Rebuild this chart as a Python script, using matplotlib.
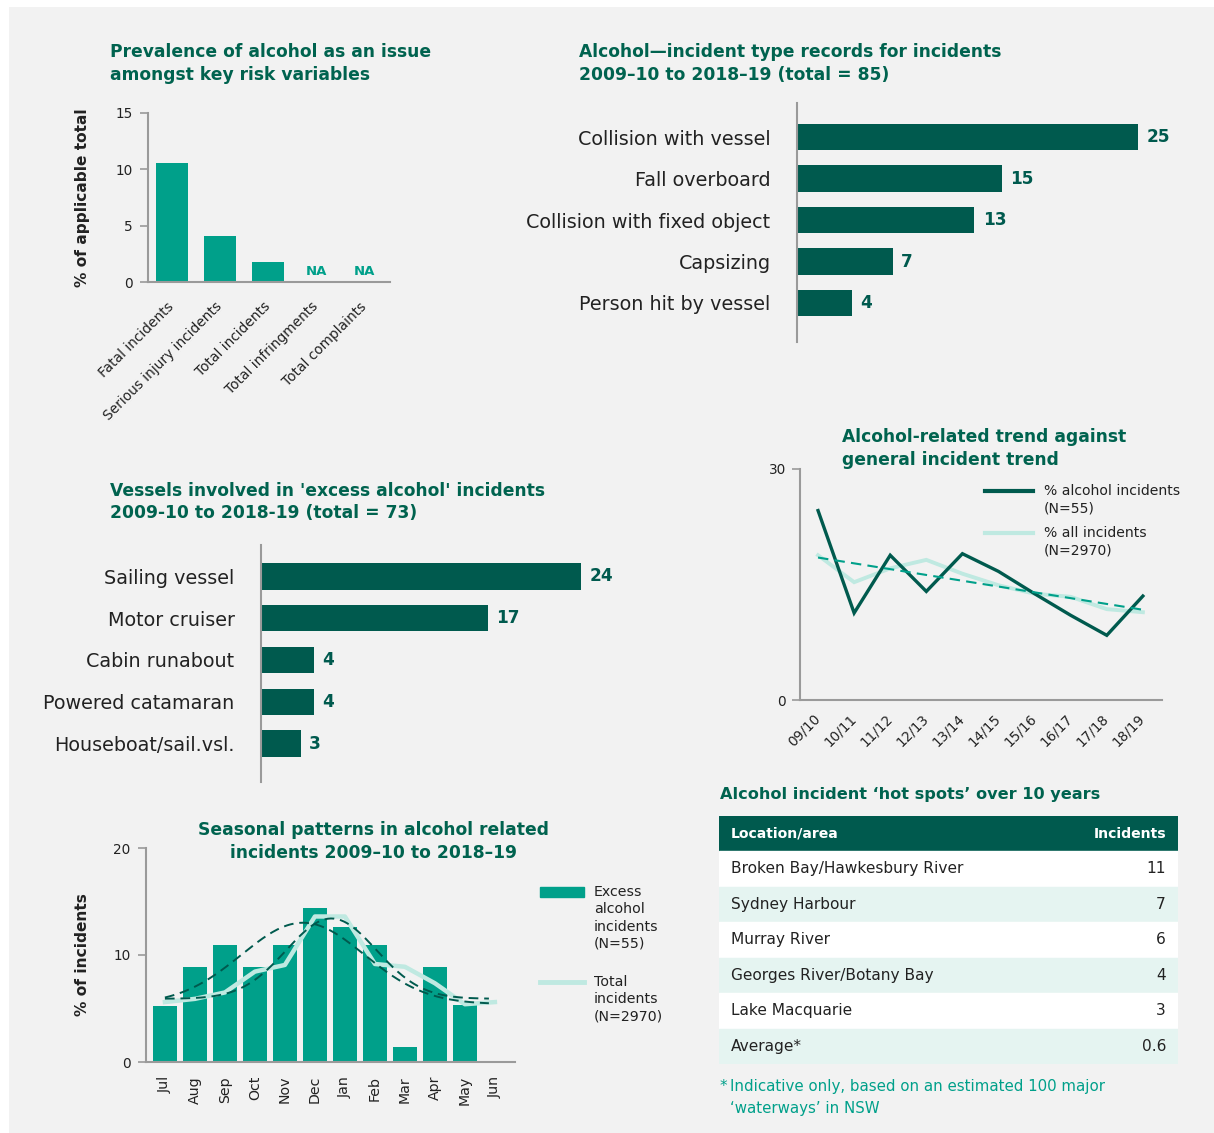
import matplotlib.pyplot as plt
import numpy as np
from matplotlib.patches import Rectangle
from matplotlib.lines import Line2D

plt.rcParams["font.family"] = ["DejaVu Sans"]

W, H = 1214, 1133

# colours
DARK = "#005a4e"
TEAL = "#00a08a"
LIGHT = "#bfe9e1"
TITLE = "#00634f"
AXIS = "#9a9a9a"
TEXT = "#222222"
BG = "#f2f2f2"
ROW = "#e5f4f1"

# prevalence of alcohol (% of applicable total)
risk_vars = ["Fatal incidents", "Serious injury incidents", "Total incidents",
             "Total infringments", "Total complaints"]
risk_pct = [10.6, 4.1, 1.8, np.nan, np.nan]

# incident types
inc_types = ["Collision with vessel", "Fall overboard", "Collision with fixed object",
             "Capsizing", "Person hit by vessel"]
inc_counts = [25, 15, 13, 7, 4]

# vessel types
vessels = ["Sailing vessel", "Motor cruiser", "Cabin runabout",
           "Powered catamaran", "Houseboat/sail.vsl."]
vessel_counts = [24, 17, 4, 4, 3]

# yearly trend (%)
years = ["09/10", "10/11", "11/12", "12/13", "13/14", "14/15", "15/16", "16/17", "17/18", "18/19"]
pct_alcohol = [24.6, 11.3, 18.8, 14.1, 19.0, 16.7, 13.8, 11.0, 8.4, 13.5]
pct_all = [18.8, 15.3, 17.1, 18.2, 16.4, 14.9, 13.8, 13.4, 11.8, 11.4]

# seasonal pattern (%)
months = ["Jul", "Aug", "Sep", "Oct", "Nov", "Dec", "Jan", "Feb", "Mar", "Apr", "May", "Jun"]
season_alcohol = [5.2, 8.9, 10.9, 8.9, 10.9, 14.4, 12.6, 10.9, 1.4, 8.9, 5.3, 0.0]
season_total = [5.6, 5.9, 6.5, 8.45, 9.07, 13.6, 13.6, 9.16, 8.9, 7.36, 5.4, 5.6]

# hot spots table
locations = ["Broken Bay/Hawkesbury River", "Sydney Harbour", "Murray River",
             "Georges River/Botany Bay", "Lake Macquarie", "Average*"]
loc_incidents = ["11", "7", "6", "4", "3", "0.6"]


def box(x0, y0, x1, y1):
    # pixel box (top-left origin) -> figure fraction rect
    return [x0 / W, 1 - y1 / H, (x1 - x0) / W, (y1 - y0) / H]


def ftext(x, y, s, **kw):
    fig.text(x / W, 1 - y / H, s, **kw)


def title(x, ys, lines, ha="left", size=12.3):
    for y, s in zip(ys, lines):
        ftext(x, y, s, color=TITLE, fontsize=size, fontweight="bold", ha=ha, va="center")


def clean(ax, left=True, bottom=True):
    ax.set_facecolor("none")
    for side in ["top", "right"]:
        ax.spines[side].set_visible(False)
    ax.spines["left"].set_visible(left)
    ax.spines["bottom"].set_visible(bottom)
    for side in ["left", "bottom"]:
        ax.spines[side].set_color(AXIS)
        ax.spines[side].set_linewidth(1.5)


def gauss_fit(x, y):
    # bell-shaped trend: offset + amplitude * gaussian, brute force on centre/width
    best = None
    for mu in np.linspace(2, 9, 141):
        for s in np.linspace(0.8, 6, 105):
            g = np.exp(-(x - mu) ** 2 / (2 * s * s))
            A = np.column_stack([g, np.ones_like(x)])
            coef = np.linalg.lstsq(A, y, rcond=None)[0]
            err = np.sum((A @ coef - y) ** 2)
            if best is None or err < best[0]:
                best = (err, mu, s, coef)
    _, mu, s, (a, c) = best
    return lambda t: c + a * np.exp(-(t - mu) ** 2 / (2 * s * s))


fig = plt.figure(figsize=(W / 100, H / 100), dpi=100, facecolor="white")
fig.add_artist(Rectangle((9 / W, 0), 1, 1 - 7 / H, transform=fig.transFigure,
                         facecolor=BG, edgecolor="none", zorder=-10))

# ---- prevalence of alcohol ----
ax1 = fig.add_axes(box(148, 113, 390, 282))
clean(ax1)
x = np.arange(len(risk_vars))
ax1.bar(x, np.nan_to_num(risk_pct), width=0.667, color=TEAL)
for i, v in enumerate(risk_pct):
    if np.isnan(v):
        ax1.text(i, 0.35, "NA", color=TEAL, fontsize=9.5, fontweight="bold", ha="center", va="bottom")
ax1.set_xlim(-0.5, 4.54)
ax1.set_ylim(0, 15)
ax1.set_yticks([0, 5, 10, 15])
ax1.set_xticks(x)
ax1.set_xticklabels(risk_vars, rotation=45, ha="right", va="center", rotation_mode="anchor")
ax1.tick_params(axis="x", length=0, pad=16, labelsize=9.9, labelcolor=TEXT)
ax1.tick_params(axis="y", length=6, width=1.2, color=AXIS, pad=5, labelsize=9.8, labelcolor=TEXT)
ax1.set_ylabel("% of applicable total", fontsize=11.1, fontweight="bold", color=TEXT, labelpad=18)
title(110, [52, 75], ["Prevalence of alcohol as an issue", "amongst key risk variables"])

# ---- incident types ----
ax2 = fig.add_axes(box(797, 103, 1190, 342))
clean(ax2, bottom=False)
y = np.arange(len(inc_types))
ax2.barh(y, inc_counts, height=0.63, color=DARK)
for i, v in enumerate(inc_counts):
    ax2.text(v + 0.6, i, str(v), color=DARK, fontsize=12.2, fontweight="bold", va="center")
ax2.set_ylim(4.94, -0.82)
ax2.set_xlim(0, 28.8)
ax2.set_xticks([])
ax2.set_yticks(y)
ax2.set_yticklabels(inc_types)
ax2.tick_params(axis="y", length=0, pad=19, labelsize=13.8, labelcolor=TEXT)
title(579, [52, 75], ["Alcohol\u2014incident type records for incidents",
                      "2009\u201310 to 2018\u201319 (total = 85)"])

# ---- vessels ----
ax3 = fig.add_axes(box(261, 545, 620, 782))
clean(ax3, bottom=False)
y = np.arange(len(vessels))
ax3.barh(y, vessel_counts, height=0.63, color=DARK)
for i, v in enumerate(vessel_counts):
    ax3.text(v + 0.6, i, str(v), color=DARK, fontsize=12.2, fontweight="bold", va="center")
ax3.set_ylim(4.92, -0.75)
ax3.set_xlim(0, 26.9)
ax3.set_xticks([])
ax3.set_yticks(y)
ax3.set_yticklabels(vessels)
ax3.tick_params(axis="y", length=0, pad=19, labelsize=13.8, labelcolor=TEXT)
title(110, [491, 513], ["Vessels involved in 'excess alcohol' incidents",
                        "2009-10 to 2018-19 (total = 73)"])

# ---- yearly trend ----
ax4 = fig.add_axes(box(800, 469, 1162, 700))
clean(ax4)
xt = np.arange(len(years))
ax4.plot(xt, pct_all, color=LIGHT, lw=2.8, solid_joinstyle="miter")
ax4.plot(xt, pct_alcohol, color=DARK, lw=2.4, solid_joinstyle="miter")
k, b = np.polyfit(xt, pct_all, 1)
ax4.plot(xt, k * xt + b, color=TEAL, lw=1.5, ls=(0, (5, 3)))
ax4.set_xlim(-0.5, 9.53)
ax4.set_ylim(0, 30)
ax4.set_yticks([0, 30])
ax4.set_xticks(xt)
ax4.set_xticklabels(years, rotation=45, ha="right", va="center", rotation_mode="anchor")
ax4.tick_params(axis="x", length=0, pad=12, labelsize=9.8, labelcolor=TEXT)
ax4.tick_params(axis="y", length=6, width=1.2, color=AXIS, pad=4, labelsize=9.8, labelcolor=TEXT)
title(842, [437, 460], ["Alcohol-related trend against", "general incident trend"])
fig.add_artist(Line2D([985 / W, 1033 / W], [1 - 491 / H] * 2, color=DARK, lw=3))
fig.add_artist(Line2D([985 / W, 1033 / W], [1 - 533 / H] * 2, color=LIGHT, lw=3))
for yy, s in [(491, "% alcohol incidents"), (509, "(N=55)"),
              (533, "% all incidents"), (550, "(N=2970)")]:
    ftext(1044, yy, s, fontsize=10.1, color=TEXT, va="center")

# ---- seasonal ----
ax5 = fig.add_axes(box(146, 848, 515, 1062))
clean(ax5)
xm = np.arange(len(months))
ax5.bar(xm, season_alcohol, width=0.8, color=TEAL)
ax5.plot(xm, season_total, color=LIGHT, lw=3.2, solid_joinstyle="round")
xs = np.linspace(0, 10.8, 200)
# no June bar for the alcohol series, so the trend is fitted to Jul-May
for series in (season_alcohol[:11], season_total):
    trend = gauss_fit(np.arange(len(series), dtype=float), np.array(series))
    ax5.plot(xs, trend(xs), color=DARK, lw=1.4, ls=(0, (5, 3)))
ax5.set_xlim(-0.63, 11.67)
ax5.set_ylim(0, 20)
ax5.set_yticks([0, 10, 20])
ax5.set_xticks(xm)
ax5.set_xticklabels(months, rotation=90)
ax5.tick_params(axis="x", length=0, pad=10, labelsize=10.2, labelcolor=TEXT)
ax5.tick_params(axis="y", length=6, width=1.2, color=AXIS, pad=5, labelsize=9.8, labelcolor=TEXT)
ax5.set_ylabel("% of incidents", fontsize=11.1, fontweight="bold", color=TEXT, labelpad=17)
title(373, [830, 853], ["Seasonal patterns in alcohol related",
                        "incidents 2009\u201310 to 2018\u201319"], ha="center")
fig.add_artist(Rectangle((540 / W, 1 - 897 / H), 44 / W, 10 / H,
                         transform=fig.transFigure, color=TEAL))
fig.add_artist(Line2D([540 / W, 584 / W], [1 - 982 / H] * 2, color=LIGHT, lw=3.5))
for i, s in enumerate(["Excess", "alcohol", "incidents", "(N=55)"]):
    ftext(594, 892 + i * 17.3, s, fontsize=10.2, color=TEXT, va="center")
for i, s in enumerate(["Total", "incidents", "(N=2970)"]):
    ftext(594, 982 + i * 17.3, s, fontsize=10.2, color=TEXT, va="center")

# ---- hot spots table ----
ftext(720, 795, "Alcohol incident \u2018hot spots\u2019 over 10 years",
      color=TITLE, fontsize=11.65, fontweight="bold", va="center")
axt = fig.add_axes(box(719, 816, 1178, 1064))
axt.set_xlim(719, 1178)
axt.set_ylim(1064, 816)
axt.axis("off")
row_h = (1064 - 851) / len(locations)
axt.add_patch(Rectangle((719, 816), 459, 35, color=DARK))
axt.text(731, 833.5, "Location/area", color="white", fontsize=10.1, fontweight="bold", va="center")
axt.text(1166, 833.5, "Incidents", color="white", fontsize=10.1, fontweight="bold", va="center", ha="right")
for i, (loc, n) in enumerate(zip(locations, loc_incidents)):
    top = 851 + i * row_h
    axt.add_patch(Rectangle((719, top), 459, row_h, color="white" if i % 2 == 0 else ROW))
    axt.text(731, top + row_h / 2, loc, color=TEXT, fontsize=11.1, va="center")
    axt.text(1166, top + row_h / 2, n, color=TEXT, fontsize=11.1, va="center", ha="right")
ftext(720, 1087, "*", color=TEAL, fontsize=10.8, va="center")
ftext(730, 1087, "Indicative only, based on an estimated 100 major", color=TEAL, fontsize=10.8, va="center")
ftext(730, 1108, "\u2018waterways\u2019 in NSW", color=TEAL, fontsize=10.8, va="center")

fig.savefig("out.png", dpi=100, facecolor=fig.get_facecolor())
